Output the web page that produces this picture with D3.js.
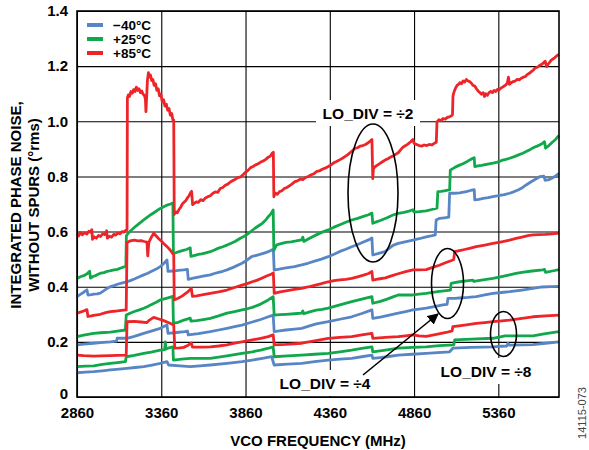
<!DOCTYPE html>
<html><head><meta charset="utf-8">
<script src="https://cdn.jsdelivr.net/npm/d3@7"></script>
<style>body{margin:0;background:#fff}text{font-family:"Liberation Sans",Arial,sans-serif}</style>
</head><body>
<script>
// ---------- DATA ----------
const xTicks = [2860,3360,3860,4360,4860,5360];
const yTicks = [0,0.2,0.4,0.6,0.8,1.0,1.2,1.4];
const legendLabels = ["\u221240\u00B0C","+25\u00B0C","+85\u00B0C"];

// LO_DIV = 2
const red_div2 = [[2860,0.592],[2870,0.584],[2880,0.597],[2892,0.588],[2905,0.596],[2918,0.591],[2930,0.601],[2940,0.597],[2948,0.607],[2952,0.572],[2962,0.581],[2975,0.576],[2988,0.586],[3000,0.582],[3012,0.592],[3025,0.589],[3036,0.603],[3040,0.576],[3052,0.583],[3065,0.580],[3078,0.590],[3090,0.587],[3102,0.595],[3115,0.592],[3128,0.600],[3140,0.598],[3150,0.605],[3157,0.607],
[3159,1.085],[3165,1.096],[3172,1.090],[3180,1.108],[3188,1.102],[3196,1.115],[3204,1.108],[3212,1.124],[3220,1.112],[3228,1.118],[3236,1.104],[3244,1.110],[3252,1.098],[3260,1.094],[3266,1.080],[3269,1.035],[3273,1.085],[3278,1.150],[3284,1.176],[3290,1.160],[3296,1.168],[3303,1.148],[3310,1.152],[3318,1.130],[3326,1.136],[3334,1.112],[3342,1.118],[3350,1.092],[3358,1.098],[3366,1.070],[3374,1.078],[3382,1.055],[3390,1.062],[3398,1.040],[3406,1.046],[3414,1.022],[3422,1.028],[3430,1.002],[3434,1.004],
[3437,0.662],[3445,0.672],[3455,0.668],[3465,0.680],[3475,0.688],[3485,0.700],[3495,0.706],[3505,0.712],[3515,0.722],[3525,0.730],[3535,0.742],[3540,0.746],[3546,0.698],[3555,0.702],[3568,0.708],[3580,0.706],[3594,0.716],[3608,0.712],[3622,0.722],[3636,0.726],[3651,0.730],[3665,0.738],[3680,0.744],[3695,0.742],[3710,0.756],[3725,0.760],[3740,0.768],[3755,0.772],[3770,0.780],[3785,0.785],[3800,0.790],[3815,0.796],[3830,0.798],[3845,0.806],[3860,0.815],[3875,0.822],[3890,0.832],[3905,0.836],[3920,0.842],[3935,0.846],[3950,0.852],[3965,0.856],[3980,0.862],[3995,0.870],[4008,0.874],[4018,0.884],[4025,0.888],
[4028,0.726],[4036,0.740],[4048,0.735],[4062,0.745],[4076,0.748],[4090,0.756],[4105,0.760],[4120,0.766],[4135,0.772],[4153,0.781],[4168,0.784],[4184,0.790],[4200,0.788],[4216,0.796],[4232,0.800],[4250,0.806],[4266,0.810],[4282,0.818],[4298,0.820],[4315,0.826],[4332,0.830],[4351,0.836],[4368,0.842],[4385,0.850],[4400,0.854],[4418,0.860],[4435,0.866],[4450,0.872],[4465,0.878],[4480,0.886],[4495,0.894],[4509,0.902],[4524,0.904],[4540,0.910],[4556,0.912],[4572,0.916],[4588,0.922],[4600,0.928],[4610,0.934],
[4615,0.792],[4619,0.828],[4630,0.836],[4645,0.842],[4660,0.848],[4675,0.854],[4690,0.860],[4705,0.864],[4720,0.870],[4735,0.874],[4750,0.880],[4766,0.886],[4780,0.896],[4794,0.906],[4810,0.912],[4825,0.918],[4840,0.926],[4853,0.934],[4860,0.920],[4875,0.916],[4890,0.912],[4905,0.910],[4920,0.914],[4935,0.912],[4950,0.916],[4965,0.914],[4980,0.920],[4992,0.924],
[4996,0.998],[5008,1.006],[5020,1.002],[5032,1.010],[5045,1.008],[5058,1.014],[5070,1.016],[5082,1.020],[5088,1.024],
[5091,1.092],[5098,1.108],[5106,1.120],[5115,1.130],[5124,1.134],[5132,1.140],[5142,1.136],[5150,1.146],[5160,1.142],[5170,1.152],[5180,1.146],[5190,1.144],[5200,1.138],[5210,1.130],[5220,1.128],[5230,1.118],[5240,1.110],[5250,1.104],[5260,1.098],[5270,1.104],[5278,1.090],[5286,1.100],[5295,1.094],[5305,1.104],[5315,1.108],[5325,1.104],[5335,1.112],[5345,1.108],[5355,1.116],[5365,1.114],[5375,1.120],[5385,1.124],[5395,1.128],[5405,1.132],[5414,1.140],[5420,1.160],[5426,1.134],[5436,1.140],[5448,1.144],[5460,1.146],[5472,1.152],[5484,1.150],[5496,1.156],[5508,1.160],[5520,1.162],[5532,1.170],[5544,1.174],[5556,1.180],[5568,1.186],[5580,1.194],[5592,1.196],[5604,1.202],[5616,1.206],[5628,1.212],[5638,1.218],[5646,1.198],[5654,1.206],[5664,1.214],[5674,1.222],[5684,1.226],[5694,1.230],[5704,1.236],[5712,1.240],[5720,1.242]];

const green_div2 = [[2860,0.430],[2880,0.436],[2900,0.440],[2920,0.447],[2935,0.456],[2940,0.431],[2955,0.437],[2970,0.440],[2985,0.445],[3000,0.449],[3020,0.451],[3040,0.456],[3060,0.458],[3080,0.461],[3100,0.463],[3120,0.468],[3140,0.472],[3150,0.475],
[3153,0.585],[3165,0.595],[3180,0.604],[3195,0.612],[3210,0.620],[3230,0.630],[3256,0.642],[3280,0.653],[3300,0.662],[3325,0.672],[3354,0.684],[3375,0.690],[3395,0.696],[3415,0.700],[3429,0.704],
[3432,0.521],[3450,0.524],[3470,0.528],[3490,0.532],[3510,0.535],[3532,0.541],[3536,0.510],[3560,0.514],[3580,0.517],[3600,0.519],[3625,0.523],[3651,0.527],[3675,0.533],[3700,0.540],[3725,0.545],[3750,0.551],[3775,0.558],[3800,0.565],[3829,0.576],[3850,0.582],[3870,0.590],[3895,0.602],[3916,0.612],[3940,0.622],[3960,0.630],[3980,0.642],[3995,0.654],[4010,0.664],[4024,0.678],
[4028,0.532],[4045,0.552],[4070,0.556],[4100,0.561],[4130,0.563],[4160,0.566],[4193,0.570],[4200,0.580],[4206,0.564],[4240,0.576],[4280,0.588],[4315,0.598],[4351,0.606],[4385,0.616],[4420,0.625],[4455,0.634],[4490,0.642],[4525,0.648],[4560,0.655],[4590,0.661],[4610,0.667],
[4615,0.630],[4640,0.636],[4660,0.640],[4700,0.650],[4735,0.660],[4766,0.666],[4800,0.670],[4830,0.674],[4853,0.679],[4860,0.671],[4890,0.672],[4932,0.675],[4965,0.680],[4996,0.685],
[5001,0.745],[5020,0.746],[5040,0.748],[5060,0.750],[5071,0.751],
[5075,0.823],[5100,0.832],[5130,0.841],[5150,0.846],[5170,0.852],[5190,0.860],[5209,0.866],[5217,0.868],
[5220,0.836],[5240,0.838],[5260,0.840],[5290,0.844],[5328,0.848],[5355,0.852],[5380,0.858],[5405,0.862],[5427,0.866],[5455,0.872],[5480,0.878],[5505,0.884],[5525,0.890],[5550,0.898],[5570,0.905],[5590,0.910],[5605,0.914],[5622,0.920],[5634,0.926],[5640,0.903],[5660,0.912],[5680,0.924],[5700,0.934],[5713,0.944],[5720,0.948]];

const blue_div2 = [[2860,0.364],[2880,0.372],[2900,0.380],[2919,0.389],[2925,0.370],[2945,0.371],[2960,0.373],[2980,0.374],[2998,0.377],[3020,0.386],[3040,0.394],[3058,0.400],[3080,0.404],[3100,0.409],[3130,0.414],[3157,0.418],[3180,0.423],[3200,0.428],[3230,0.436],[3256,0.443],[3280,0.449],[3300,0.455],[3330,0.464],[3354,0.473],[3375,0.484],[3394,0.497],
[3400,0.456],[3425,0.457],[3450,0.458],[3475,0.460],[3493,0.461],[3515,0.463],[3520,0.427],[3550,0.431],[3580,0.435],[3615,0.439],[3651,0.443],[3675,0.448],[3700,0.452],[3725,0.456],[3750,0.461],[3790,0.471],[3839,0.485],[3870,0.497],[3896,0.509],[3925,0.514],[3950,0.518],[3975,0.523],[3995,0.527],[4015,0.533],[4025,0.536],
[4030,0.460],[4060,0.464],[4100,0.468],[4150,0.473],[4193,0.479],[4230,0.485],[4270,0.493],[4310,0.500],[4351,0.509],[4385,0.518],[4420,0.528],[4455,0.536],[4490,0.545],[4525,0.553],[4560,0.562],[4590,0.570],[4610,0.577],
[4615,0.515],[4650,0.521],[4687,0.527],[4710,0.538],[4735,0.550],[4766,0.557],[4800,0.562],[4853,0.569],[4890,0.574],[4932,0.581],[4960,0.584],[4986,0.588],
[4991,0.642],[5012,0.648],[5040,0.650],[5066,0.652],
[5071,0.739],[5100,0.739],[5130,0.740],[5170,0.745],[5195,0.749],[5217,0.752],
[5220,0.715],[5245,0.717],[5270,0.720],[5300,0.723],[5328,0.727],[5360,0.730],[5395,0.734],[5427,0.739],[5455,0.745],[5480,0.752],[5505,0.760],[5525,0.769],[5550,0.779],[5570,0.786],[5590,0.793],[5605,0.799],[5630,0.801],[5638,0.786],[5660,0.788],[5680,0.794],[5700,0.802],[5720,0.811]];

// LO_DIV = 4
const red_div4 = [[2860,0.304],[2880,0.308],[2900,0.312],[2919,0.317],[2925,0.292],[2945,0.294],[2960,0.296],[2980,0.298],[2998,0.300],[3030,0.306],[3058,0.310],[3080,0.311],[3100,0.312],[3125,0.314],[3152,0.316],
[3157,0.560],[3175,0.566],[3200,0.569],[3220,0.566],[3240,0.567],[3260,0.564],[3275,0.562],[3280,0.512],[3286,0.560],[3300,0.578],[3315,0.594],[3330,0.584],[3345,0.574],[3360,0.566],[3374,0.557],[3390,0.548],[3413,0.533],[3434,0.515],
[3437,0.352],[3460,0.358],[3480,0.365],[3493,0.370],[3515,0.380],[3538,0.394],[3545,0.365],[3570,0.367],[3600,0.370],[3625,0.373],[3651,0.376],[3700,0.381],[3750,0.388],[3795,0.397],[3839,0.406],[3870,0.411],[3900,0.418],[3930,0.424],[3956,0.431],[3985,0.439],[4015,0.446],[4025,0.450],
[4030,0.376],[4065,0.381],[4100,0.385],[4150,0.390],[4193,0.394],[4230,0.399],[4270,0.405],[4310,0.411],[4351,0.418],[4385,0.422],[4420,0.425],[4455,0.427],[4490,0.430],[4525,0.436],[4560,0.442],[4590,0.448],[4610,0.455],
[4615,0.424],[4650,0.428],[4690,0.432],[4730,0.440],[4766,0.447],[4810,0.455],[4853,0.461],[4890,0.461],[4932,0.462],[4970,0.470],[5010,0.478],[5050,0.488],[5095,0.498],
[5101,0.527],[5130,0.531],[5160,0.535],[5195,0.540],[5229,0.545],[5280,0.551],[5328,0.557],[5380,0.563],[5427,0.569],[5465,0.575],[5500,0.580],[5535,0.585],[5565,0.588],[5600,0.589],[5640,0.590],[5680,0.592],[5720,0.594]];

const green_div4 = [[2860,0.219],[2900,0.224],[2959,0.231],[3000,0.233],[3058,0.235],[3100,0.239],[3147,0.243],
[3152,0.297],[3175,0.304],[3200,0.310],[3230,0.316],[3256,0.322],[3280,0.328],[3300,0.335],[3330,0.344],[3354,0.352],[3390,0.358],[3429,0.365],
[3432,0.267],[3460,0.271],[3490,0.278],[3532,0.286],[3536,0.275],[3570,0.277],[3600,0.280],[3651,0.285],[3700,0.294],[3750,0.304],[3795,0.310],[3839,0.316],[3870,0.320],[3900,0.325],[3950,0.337],[3995,0.352],[4024,0.364],
[4030,0.297],[4065,0.299],[4100,0.300],[4150,0.302],[4193,0.304],[4200,0.312],[4206,0.302],[4240,0.309],[4280,0.315],[4315,0.318],[4351,0.322],[4420,0.334],[4490,0.346],[4550,0.355],[4610,0.364],
[4615,0.340],[4660,0.347],[4700,0.355],[4735,0.363],[4766,0.370],[4810,0.370],[4853,0.370],[4890,0.373],[4932,0.376],[5000,0.382],[5076,0.388],
[5080,0.412],[5100,0.415],[5130,0.418],[5170,0.421],[5209,0.424],[5215,0.419],[5260,0.424],[5328,0.430],[5380,0.437],[5427,0.443],[5465,0.448],[5500,0.452],[5560,0.457],[5624,0.461],[5634,0.463],[5640,0.452],[5680,0.457],[5720,0.462]];

const blue_div4 = [[2860,0.189],[2900,0.192],[2959,0.195],[3000,0.197],[3058,0.200],[3095,0.203],[3098,0.213],[3157,0.213],[3200,0.220],[3256,0.231],[3300,0.239],[3354,0.249],[3394,0.261],
[3400,0.231],[3450,0.234],[3500,0.237],[3516,0.239],[3520,0.225],[3580,0.230],[3651,0.237],[3700,0.243],[3750,0.249],[3795,0.255],[3839,0.261],[3900,0.272],[3950,0.281],[3995,0.291],[4024,0.297],
[4030,0.237],[4060,0.240],[4100,0.243],[4150,0.246],[4193,0.249],[4240,0.258],[4280,0.265],[4351,0.273],[4420,0.282],[4490,0.291],[4550,0.303],[4610,0.316],
[4615,0.285],[4660,0.290],[4700,0.295],[4766,0.304],[4810,0.310],[4853,0.316],[4890,0.319],[4932,0.322],[4980,0.328],[5031,0.334],[5056,0.336],
[5061,0.358],[5100,0.358],[5130,0.359],[5180,0.361],[5229,0.364],[5280,0.370],[5328,0.376],[5380,0.379],[5427,0.382],[5500,0.388],[5565,0.394],[5620,0.399],[5670,0.400],[5720,0.401]];

// LO_DIV = 8
const red_div8 = [[2860,0.152],[2900,0.150],[2959,0.148],[3000,0.149],[3058,0.150],[3100,0.151],[3152,0.152],
[3157,0.273],[3200,0.274],[3240,0.272],[3275,0.270],[3290,0.279],[3315,0.289],[3345,0.283],[3374,0.277],[3405,0.269],[3434,0.261],
[3440,0.177],[3470,0.178],[3493,0.180],[3520,0.188],[3538,0.196],[3545,0.181],[3600,0.181],[3651,0.182],[3700,0.185],[3750,0.189],[3795,0.195],[3839,0.200],[3900,0.207],[3950,0.213],[3995,0.219],[4024,0.226],
[4030,0.189],[4100,0.191],[4193,0.195],[4270,0.204],[4351,0.213],[4420,0.216],[4490,0.219],[4550,0.225],[4610,0.231],
[4615,0.213],[4690,0.216],[4766,0.219],[4810,0.222],[4853,0.225],[4890,0.222],[4932,0.220],[5000,0.228],[5050,0.234],[5086,0.240],
[5090,0.255],[5160,0.261],[5229,0.267],[5280,0.270],[5328,0.273],[5380,0.276],[5427,0.279],[5500,0.285],[5565,0.291],[5640,0.294],[5720,0.297]];

const green_div8 = [[2860,0.110],[2910,0.112],[2959,0.113],[3010,0.118],[3058,0.122],[3100,0.125],[3147,0.128],
[3152,0.146],[3200,0.151],[3256,0.158],[3300,0.163],[3354,0.170],[3380,0.172],[3384,0.200],[3388,0.174],[3410,0.179],[3429,0.182],
[3432,0.134],[3480,0.137],[3532,0.140],[3590,0.140],[3651,0.140],[3750,0.149],[3839,0.158],[3900,0.164],[3950,0.170],[3990,0.176],[4024,0.182],
[4030,0.146],[4110,0.149],[4193,0.152],[4270,0.155],[4351,0.158],[4420,0.164],[4490,0.170],[4550,0.176],[4610,0.182],
[4615,0.164],[4690,0.170],[4766,0.177],[4850,0.180],[4932,0.182],[5010,0.186],[5096,0.189],
[5101,0.207],[5200,0.210],[5328,0.213],[5400,0.222],[5480,0.222],[5565,0.222],[5640,0.230],[5720,0.237]];

const blue_div8 = [[2860,0.088],[2910,0.090],[2959,0.092],[3010,0.095],[3058,0.098],[3110,0.101],[3157,0.104],[3205,0.107],[3256,0.110],[3305,0.116],[3354,0.122],[3394,0.128],
[3404,0.116],[3470,0.113],[3532,0.110],[3590,0.113],[3651,0.116],[3750,0.122],[3839,0.128],[3900,0.134],[3960,0.140],[4015,0.146],
[4030,0.116],[4110,0.119],[4193,0.122],[4270,0.128],[4351,0.134],[4420,0.137],[4490,0.140],[4550,0.146],[4610,0.152],
[4615,0.140],[4660,0.143],[4700,0.146],[4766,0.152],[4850,0.155],[4932,0.158],[5000,0.161],[5071,0.164],
[5090,0.177],[5200,0.180],[5328,0.182],[5380,0.184],[5410,0.185],[5417,0.195],[5425,0.188],[5500,0.189],[5565,0.190],[5640,0.195],[5720,0.200]];

const series = [
  {data: blue_div2, temp: 0}, {data: green_div2, temp: 1}, {data: red_div2, temp: 2},
  {data: blue_div4, temp: 0}, {data: green_div4, temp: 1}, {data: red_div4, temp: 2},
  {data: blue_div8, temp: 0}, {data: green_div8, temp: 1}, {data: red_div8, temp: 2}
];
const colors = ["#5886c5","#10a84b","#ed2529"];

// ---------- CHART ----------
const W = 589, H = 450;
const M = {l:77, r:559, t:11, b:397};
const svg = d3.select("body").append("svg").attr("width",W).attr("height",H);
const x = d3.scaleLinear().domain([2860,5720]).range([M.l,M.r]);
const y = d3.scaleLinear().domain([0,1.4]).range([M.b,M.t]);

// grid + x axis
const gx = svg.append("g").attr("transform",`translate(0,${M.b})`)
  .call(d3.axisBottom(x).tickValues(xTicks).tickSize(-(M.b-M.t)).tickPadding(10).tickFormat(d3.format("d")));
gx.select(".domain").remove();
gx.selectAll(".tick line").attr("stroke","#000").attr("stroke-width",1.1);
gx.selectAll(".tick text").attr("fill","#000").style("font-size","15px").style("font-weight","bold");

const gy = svg.append("g").attr("transform",`translate(${M.l},0)`)
  .call(d3.axisLeft(y).tickValues(yTicks).tickSize(-(M.r-M.l)).tickPadding(9).tickFormat(d => d===0 ? "0" : d3.format(".1f")(d)));
gy.select(".domain").remove();
gy.selectAll(".tick line").attr("stroke","#000").attr("stroke-width",1.1);
gy.selectAll(".tick text").attr("fill","#000").style("font-size","15px").style("font-weight","bold");
// nudge the "0" label up slightly so it clears the first x label
gy.selectAll(".tick text").filter(d => d === 0).attr("dy","0.1em");

// curves
const line = d3.line().x(d => x(d[0])).y(d => y(d[1]));
svg.append("g").selectAll("path").data(series).join("path")
  .attr("d", d => line(d.data))
  .attr("fill","none")
  .attr("stroke", d => colors[d.temp])
  .attr("stroke-width", 2.8)
  .attr("stroke-linejoin","round");

// frame
svg.append("rect").attr("x",M.l).attr("y",M.t).attr("width",M.r-M.l).attr("height",M.b-M.t)
  .attr("fill","none").attr("stroke","#000").attr("stroke-width",1.6);

// legend
const lg = svg.append("g");
lg.append("rect").attr("x",M.l+1).attr("y",M.t+1).attr("width",80).attr("height",52).attr("fill","#fff");
legendLabels.forEach((t,i) => {
  const yy = 25 + i*14;
  lg.append("line").attr("x1",87).attr("x2",103).attr("y1",yy).attr("y2",yy)
    .attr("stroke",colors[i]).attr("stroke-width",4);
  lg.append("text").attr("x",113).attr("y",yy).attr("dy","0.36em")
    .style("font-size","13.5px").style("font-weight","bold").text(t);
});

// annotations
function label(txt, cx, cy, bw){
  svg.append("rect").attr("x",cx-bw/2).attr("y",cy-13).attr("width",bw).attr("height",26).attr("fill","#fff");
  svg.append("text").attr("x",cx).attr("y",cy).attr("dy","0.36em").attr("text-anchor","middle")
    .style("font-size","15.5px").style("font-weight","bold").text(txt);
}
label("LO_DIV = \u00F72", 368, 113, 104);
label("LO_DIV = \u00F74", 325, 383, 100);
label("LO_DIV = \u00F78", 486, 371, 100);

const ell = [[373,193,25,69],[447.5,283.5,16,35],[503.5,334,13,22.5]];
svg.append("g").selectAll("ellipse").data(ell).join("ellipse")
  .attr("cx",d=>d[0]).attr("cy",d=>d[1]).attr("rx",d=>d[2]).attr("ry",d=>d[3])
  .attr("fill","none").attr("stroke","#000").attr("stroke-width",1.6);

svg.append("defs").append("marker").attr("id","ah").attr("viewBox","0 0 10 10")
  .attr("refX",9).attr("refY",5).attr("markerWidth",7).attr("markerHeight",7).attr("orient","auto")
  .append("path").attr("d","M0,0 L10,5 L0,10 z").attr("fill","#000");
svg.append("line").attr("x1",363).attr("y1",375).attr("x2",438).attr("y2",314)
  .attr("stroke","#000").attr("stroke-width",1.6).attr("marker-end","url(#ah)");

// axis titles
svg.append("text").attr("x",(M.l+M.r)/2).attr("y",446).attr("text-anchor","middle")
  .style("font-size","15px").style("font-weight","bold").text("VCO FREQUENCY (MHz)");
svg.append("text").attr("transform","translate(21,205) rotate(-90)").attr("text-anchor","middle")
  .style("font-size","15px").style("font-weight","bold").text("INTEGRATED PHASE NOISE,");
svg.append("text").attr("transform","translate(39,205) rotate(-90)").attr("text-anchor","middle")
  .style("font-size","15px").style("font-weight","bold").text("WITHOUT SPURS (\u00B0rms)");
svg.append("text").attr("transform","translate(586,413) rotate(-90)").attr("text-anchor","middle")
  .style("font-size","11px").attr("fill","#444").text("14115-073");
</script>
</body></html>
